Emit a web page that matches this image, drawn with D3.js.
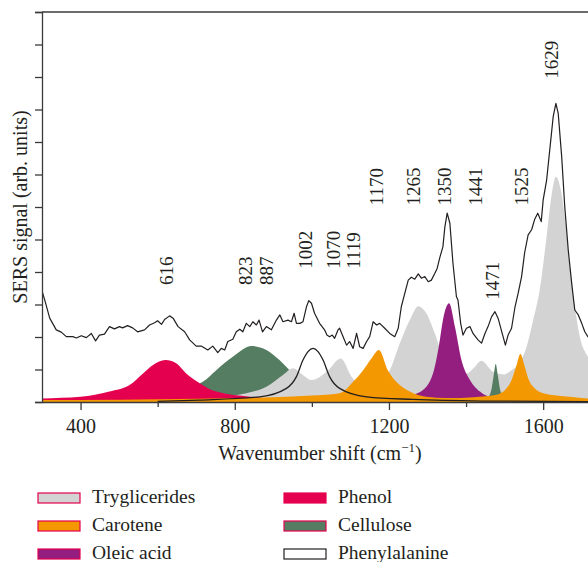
<!DOCTYPE html>
<html>
  <head>
    <meta charset="UTF-8">
    <script src="https://cdn.jsdelivr.net/npm/d3@7"></script>
    <title>SERS spectrum</title>
    <style>
      body { margin: 0; background: #fff; }
      svg text { font-family: "Liberation Serif", "DejaVu Serif", serif; fill: #231f20; }
    </style>
  </head>
  <body>
    <svg id="chart" width="588" height="562"></svg>
  <script>
      // measured spectrum: [wavenumber, signal]
      var spectrum = [[300,3.42],[307,3.14],[320,2.58],[337,2.22],[350,2.15],[363,2.01],[380,2.01],[389,1.97],[402,2.04],[415,1.98],
        [428,2.11],[439,1.88],[449,2.06],[462,2.09],[475,2.32],[488,2.25],[501,2.32],[509,2.28],[522,2.35],[535,2.28],[548,2.16],
        [566,2.22],[579,2.37],[592,2.44],[600,2.50],[610,2.39],[618,2.54],[631,2.65],[640,2.58],[653,2.32],[670,2.16],[683,1.91],
        [700,1.72],[713,1.72],[730,1.60],[743,1.72],[756,1.52],[765,1.65],[774,1.60],[782,1.86],[795,1.93],[804,2.16],[813,2.24],
        [821,2.16],[830,2.42],[839,2.32],[847,2.47],[856,2.37],[863,2.52],[872,2.16],[882,2.32],[895,2.22],[908,2.52],[917,2.68],
        [925,2.47],[938,2.52],[947,2.47],[954,2.73],[960,2.42],[969,2.42],[977,2.47],[986,2.93],[992,3.12],[999,3.04],[1007,2.73],
        [1020,2.42],[1033,2.22],[1039,2.06],[1046,2.01],[1053,2.06],[1059,1.96],[1068,2.22],[1072,2.27],[1081,2.01],[1090,1.75],
        [1098,1.86],[1107,1.65],[1116,2.11],[1124,1.70],[1133,1.65],[1142,1.86],[1150,2.01],[1159,2.47],[1168,2.37],[1176,2.42],
        [1189,2.27],[1202,2.11],[1215,2.01],[1224,2.27],[1232,2.93],[1241,3.34],[1250,3.75],[1258,3.84],[1267,3.78],[1276,3.94],
        [1284,3.81],[1293,3.86],[1302,3.70],[1310,3.75],[1319,3.96],[1325,4.11],[1332,4.45],[1340,4.78],[1345,5.39],[1351,5.81],
        [1358,5.50],[1366,4.27],[1375,3.24],[1379,3.14],[1386,2.42],[1392,2.06],[1401,2.27],[1410,2.32],[1418,2.11],[1431,1.91],
        [1440,1.81],[1449,2.11],[1457,2.32],[1466,2.62],[1475,2.78],[1483,2.58],[1489,2.32],[1496,2.01],[1502,1.75],[1509,2.06],
        [1518,2.27],[1527,2.93],[1535,3.34],[1544,3.86],[1552,4.60],[1561,5.14],[1570,5.30],[1578,5.62],[1586,5.81],[1595,5.55],
        [1600,6.22],[1609,6.83],[1617,7.75],[1626,8.78],[1633,9.19],[1639,8.88],[1648,7.55],[1656,6.01],[1665,4.68],[1674,3.65],
        [1682,2.83],[1691,2.68],[1700,2.42],[1708,2.16],[1716,2.01],[1730,1.90],[1750,1.80]];

      // fitted bands: [wavenumber, intensity]
      var tryglicerides = [[300,0.03],[600,0.08],[750,0.15],[830,0.27],[882,0.47],[925,0.83],[951,1.04],[975,0.85],[999,0.68],
        [1040,0.95],[1075,1.34],[1103,0.78],[1133,0.47],[1165,0.60],[1202,0.98],[1228,1.80],[1254,2.52],[1276,2.95],[1297,2.73],
        [1319,2.11],[1340,1.39],[1370,1.00],[1401,0.88],[1420,1.05],[1440,1.27],[1470,0.93],[1500,0.85],[1518,0.98],[1531,1.09],
        [1557,1.70],[1574,2.52],[1591,3.45],[1608,5.00],[1621,6.30],[1633,6.93],[1644,6.62],[1656,5.70],[1669,4.16],[1682,2.93],
        [1695,2.01],[1716,1.39],[1750,0.80]];
      var phenol = [[300,0.11],[400,0.16],[475,0.32],[527,0.52],[562,0.88],[588,1.14],[620,1.29],[648,1.19],[674,0.88],
        [709,0.58],[752,0.32],[840,0.16],[940,0.09],[1100,0.04],[1750,0.01]];
      var celluloseBroad = [[300,0.04],[500,0.12],[600,0.25],[680,0.45],[717,0.62],[752,0.98],[795,1.39],[844,1.72],[882,1.60],
        [916,1.29],[942,0.98],[980,0.60],[1050,0.30],[1200,0.10],[1750,0.01]];
      var celluloseNarrow = [[1440,0.03],[1458,0.15],[1466,0.40],[1472,0.85],[1477,1.17],[1482,0.85],[1488,0.40],[1496,0.15],
        [1515,0.03]];
      var carotene = [[300,0.06],[700,0.10],[900,0.15],[1000,0.20],[1072,0.27],[1107,0.62],[1133,0.98],[1155,1.35],[1174,1.60],
        [1197,0.98],[1219,0.62],[1254,0.32],[1297,0.16],[1350,0.12],[1420,0.15],[1479,0.22],[1505,0.42],[1518,0.68],[1530,1.10],
        [1541,1.48],[1552,1.10],[1561,0.73],[1578,0.42],[1600,0.27],[1669,0.16],[1750,0.08]];
      var oleicAcid = [[300,0.02],[1100,0.05],[1200,0.10],[1262,0.22],[1297,0.47],[1319,1.09],[1332,1.91],[1340,2.52],[1356,3.04],
        [1371,2.32],[1388,1.29],[1410,0.68],[1436,0.32],[1462,0.16],[1550,0.07],[1750,0.02]];
      var phenylalanine = [[600,0.02],[709,0.06],[865,0.16],[934,0.42],[960,0.78],[977,1.29],[990,1.55],[1003,1.65],[1016,1.55],
        [1029,1.29],[1046,0.78],[1072,0.42],[1142,0.16],[1262,0.08],[1440,0.03],[1750,0.01]];

      // peak annotations
      var peakNames = ["616","823","887","1002","1070","1119","1170","1265","1350","1441","1471","1525","1629"];
      var peakAnchor = [622,828,882,984,1057,1109,1168,1264,1345,1425,1468,1544,1622];
      var peakLevel = [3.6,3.6,3.6,4.1,4.1,4.1,6.05,6.05,6.05,6.05,3.15,6.05,9.95];

      var xMajor = [400,800,1200,1600];
      var xMinor = [600,1000,1400];

      var legendNames = ["Tryglicerides","Carotene","Oleic acid","Phenol","Cellulose","Phenylalanine"];
      var legendFill = ["#d3d3d3","#f39800","#931e80","#e4004f","#557d61","#ffffff"];
      var legendEdge = ["#e4004f","#e4004f","#e4004f","#e4004f","#e4004f","#231f20"];

      var svg = d3.select("#chart");
      var x = d3.scaleLinear().domain([300,1750]).range([42,601]);
      var y = d3.scaleLinear().domain([0,12]).range([402,12]);

      svg.append("clipPath").attr("id","plotclip")
        .append("rect").attr("x",42).attr("y",12).attr("width",559).attr("height",390);
      var plot = svg.append("g").attr("clip-path","url(#plotclip)");

      var area = d3.area().x(function(d){ return x(d[0]); }).y0(y(0)).y1(function(d){ return y(d[1]); })
        .curve(d3.curveMonotoneX);
      var line = d3.line().x(function(d){ return x(d[0]); }).y(function(d){ return y(d[1]); });

      function band(data, color){
        plot.append("path").datum(data).attr("d", area).attr("fill", color);
      }
      band(celluloseBroad, "#557d61");
      band(tryglicerides, "#d3d3d3");
      band(phenol, "#e4004f");
      band(oleicAcid, "#931e80");
      band(celluloseNarrow, "#557d61");
      band(carotene, "#f39800");

      plot.append("path").datum(phenylalanine)
        .attr("d", line.curve(d3.curveMonotoneX))
        .attr("fill","none").attr("stroke","#231f20").attr("stroke-width",1.3);
      plot.append("path").datum(spectrum)
        .attr("d", d3.line().x(function(d){ return x(d[0]); }).y(function(d){ return y(d[1]); }))
        .attr("fill","none").attr("stroke","#231f20").attr("stroke-width",1.2).attr("stroke-linejoin","round");

      // peak labels
      svg.append("g").selectAll("text").data(peakNames).enter().append("text")
        .attr("transform", function(d,i){ return "translate(" + x(peakAnchor[i]) + "," + y(peakLevel[i]) + ") rotate(-90)"; })
        .attr("dominant-baseline","central")
        .style("font-size","19px")
        .text(function(d){ return d; });

      // axes
      var axisColor = "#3a3a3a";
      var gy = svg.append("g").attr("transform","translate(42,0)")
        .call(d3.axisLeft(y).tickValues(d3.range(0,13)).tickSize(7).tickFormat(""));
      var gx = svg.append("g").attr("transform","translate(0,402)")
        .call(d3.axisBottom(x).tickValues(xMajor).tickSize(8).tickPadding(9).tickSizeOuter(0).tickFormat(d3.format("d")));
      var gx2 = svg.append("g").attr("transform","translate(0,402)")
        .call(d3.axisBottom(x).tickValues(xMinor).tickSize(5).tickFormat("").tickSizeOuter(0));
      gx2.select(".domain").remove();
      [gx, gy, gx2].forEach(function(g){
        g.selectAll("line").attr("stroke",axisColor).attr("stroke-width",1.3);
        g.selectAll(".domain").attr("stroke",axisColor).attr("stroke-width",1.3);
      });
      gx.selectAll("text").style("font-size","20px").attr("fill","#231f20")
        .style("font-family","Liberation Serif, serif");
      svg.append("line").attr("x1",42).attr("x2",601).attr("y1",12).attr("y2",12)
        .attr("stroke",axisColor).attr("stroke-width",1.3);

      svg.append("text").attr("transform","translate(27,207) rotate(-90)")
        .attr("text-anchor","middle").style("font-size","20px")
        .text("SERS signal (arb. units)");

      var xt = svg.append("text").attr("x",320).attr("y",460).attr("text-anchor","middle").style("font-size","20px");
      xt.append("tspan").text("Wavenumber shift (cm");
      xt.append("tspan").attr("dy",-8).style("font-size","13px").text("\u22121");
      xt.append("tspan").attr("dy",8).text(")");

      // legend
      var leg = svg.append("g").selectAll("g").data(legendNames).enter().append("g")
        .attr("transform", function(d,i){ return "translate(" + (i < 3 ? 38 : 284) + "," + (493 + (i % 3) * 28) + ")"; });
      leg.append("rect").attr("width",42).attr("height",10)
        .attr("fill", function(d,i){ return legendFill[i]; })
        .attr("stroke", function(d,i){ return legendEdge[i]; }).attr("stroke-width",1.2);
      leg.append("text").attr("x",54).attr("y",10).style("font-size","19.5px").text(function(d){ return d; });
  </script>
  </body>
</html>
